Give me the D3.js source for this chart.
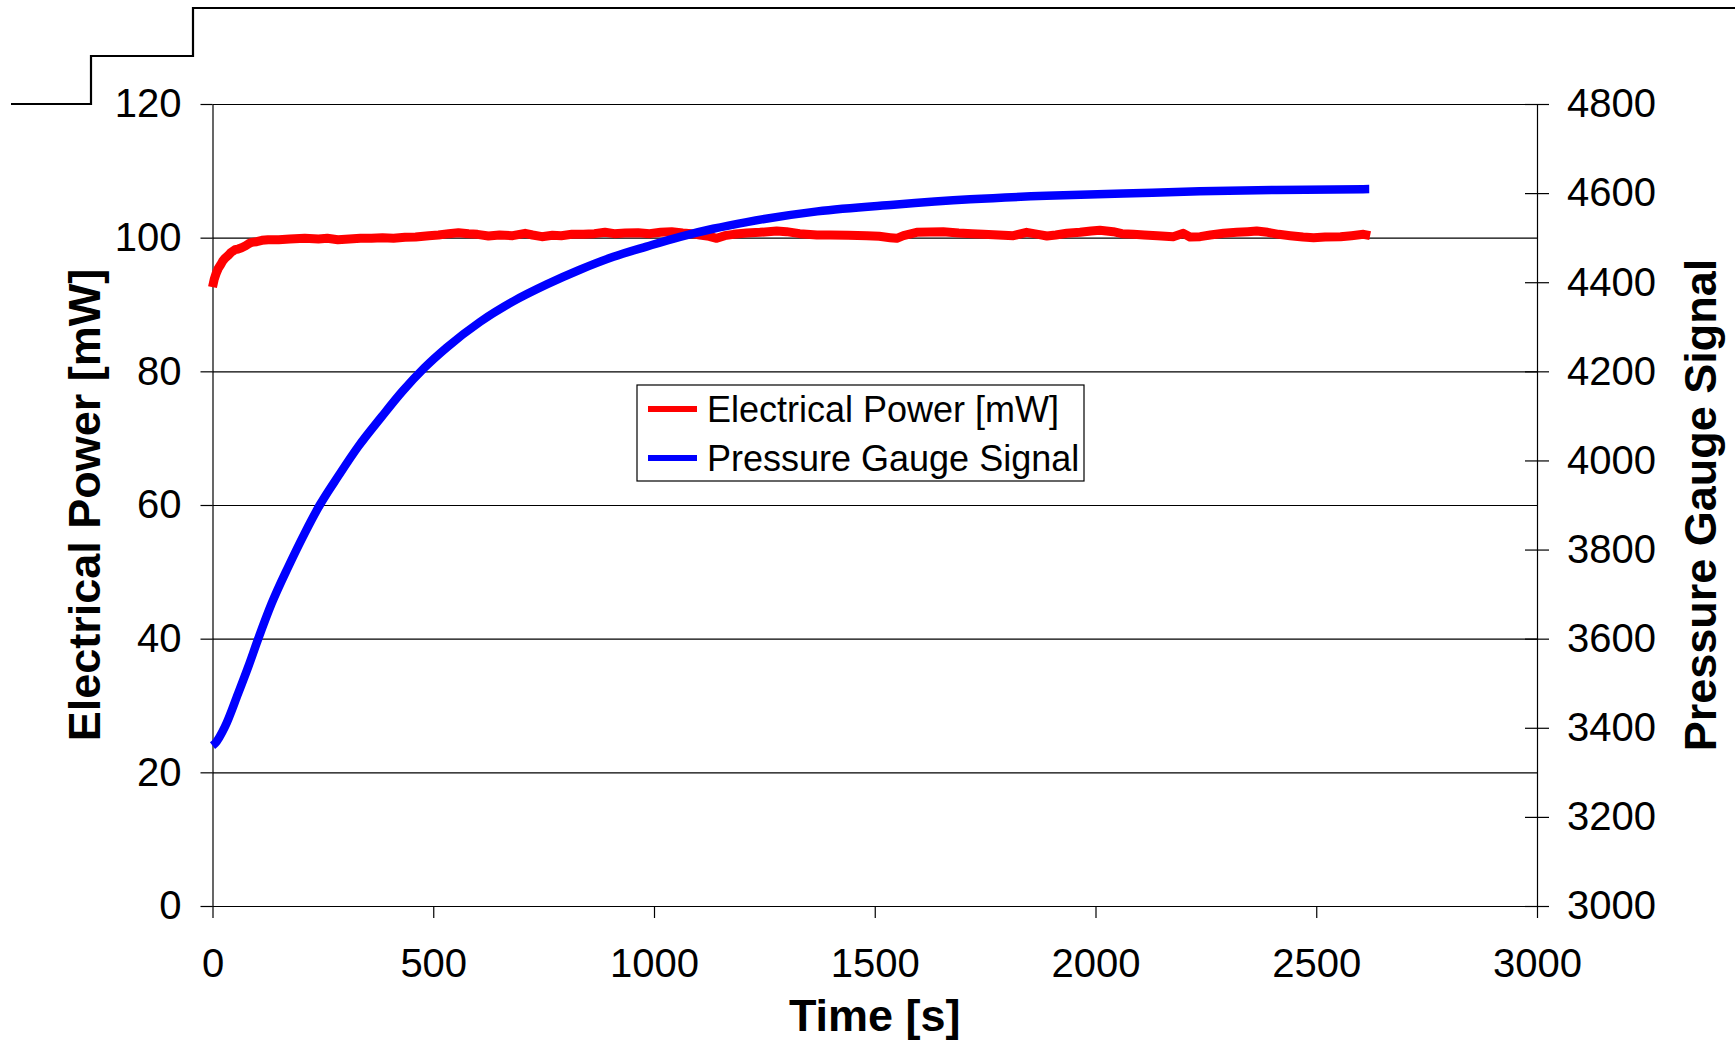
<!DOCTYPE html>
<html>
<head>
<meta charset="utf-8">
<script src="https://cdn.jsdelivr.net/npm/d3@7"></script>
<style>
  body { margin: 0; background: #fff; }
  svg { display: block; font-family: "Liberation Sans", Arial, sans-serif; }
  .axis text { font-size: 40px; fill: #000; }
  .axis line, .axis path { stroke: #000; stroke-width: 1.2; }
  .grid line { stroke: #000; stroke-width: 1.2; }
  .grid path { display: none; }
</style>
</head>
<body>
<div id="chart"></div>
<script>
// tick labels
var timeTicks = [0, 500, 1000, 1500, 2000, 2500, 3000];
var powerTicks = [0, 20, 40, 60, 80, 100, 120];
var pressureTicks = [3000, 3200, 3400, 3600, 3800, 4000, 4200, 4400, 4600, 4800];

// Electrical Power [mW]
var powerTime = [0, 4, 8, 13, 18, 23, 28, 35, 42, 51, 58, 66, 75, 82, 89, 100, 112, 126, 150, 175,
  209, 240, 260, 284, 310, 335, 360, 385, 410, 436, 460, 490, 512, 535, 557, 580, 600, 625, 650, 680,
  708, 725, 746, 770, 790, 814, 840, 865, 889, 910, 935, 964, 990, 1015, 1040, 1065, 1085, 1104, 1125, 1142,
  1160, 1180, 1210, 1240, 1278, 1300, 1330, 1369, 1400, 1440, 1482, 1510, 1535, 1550, 1565, 1595, 1625, 1655, 1690, 1720,
  1746, 1780, 1814, 1844, 1870, 1890, 1910, 1935, 1965, 1990, 2010, 2040, 2060, 2086, 2110, 2140, 2176, 2199, 2214, 2237,
  2260, 2290, 2320, 2345, 2365, 2390, 2415, 2441, 2470, 2494, 2520, 2555, 2580, 2607, 2622];
var powerValues = [92.6, 93.8, 94.6, 95.4, 95.9, 96.5, 96.9, 97.3, 97.8, 98.2, 98.3, 98.5, 98.8, 99.1, 99.3, 99.4, 99.6, 99.7, 99.7, 99.8,
  99.9, 99.8, 99.9, 99.7, 99.8, 99.9, 99.9, 100.0, 99.9, 100.05, 100.1, 100.3, 100.4, 100.6, 100.75, 100.6, 100.5, 100.25, 100.4, 100.3,
  100.65, 100.4, 100.15, 100.35, 100.3, 100.5, 100.5, 100.6, 100.8, 100.6, 100.7, 100.75, 100.6, 100.8, 100.9, 100.7, 100.6, 100.4, 100.2, 99.9,
  100.3, 100.5, 100.7, 100.8, 101.0, 100.9, 100.6, 100.4, 100.4, 100.35, 100.3, 100.2, 100.0, 99.9, 100.3, 100.8, 100.85, 100.9, 100.7, 100.6,
  100.5, 100.4, 100.3, 100.8, 100.5, 100.25, 100.4, 100.65, 100.8, 101.0, 101.1, 100.9, 100.6, 100.5, 100.4, 100.3, 100.15, 100.65, 100.1, 100.15,
  100.4, 100.65, 100.8, 100.9, 101.0, 100.8, 100.5, 100.3, 100.1, 100.0, 100.1, 100.15, 100.3, 100.5, 100.3];

// Pressure Gauge Signal
var pressureTime = [0, 6, 28, 58, 81, 104, 134, 172, 209, 243, 285, 330, 383, 430, 480, 530, 606, 681, 757, 832,
  908, 983, 1059, 1134, 1210, 1370, 1543, 1716, 1889, 2063, 2236, 2410, 2620];
var pressureValues = [3360, 3365, 3402, 3477, 3537, 3601, 3679, 3762, 3837, 3900, 3965, 4031, 4098, 4155, 4208, 4253, 4311, 4357, 4395, 4428,
  4457, 4480, 4502, 4520, 4535, 4559, 4574, 4586, 4594, 4599, 4604, 4607, 4609];

var seriesNames = ["Electrical Power [mW]", "Pressure Gauge Signal"];
var seriesColors = ["#ff0000", "#0000ff"];

var PowerChart = {
  init: function () {
    this.W = 1735;
    this.H = 1042;
    this.margin = { left: 212.5, top: 104, right: 198, bottom: 136 };
    this.w = this.W - this.margin.left - this.margin.right;
    this.h = this.H - this.margin.top - this.margin.bottom;

    this.svg = d3.select("#chart").append("svg")
      .attr("width", this.W)
      .attr("height", this.H);

    this.x = d3.scaleLinear().domain([0, 3000]).range([0, this.w]);
    this.yLeft = d3.scaleLinear().domain([0, 120]).range([this.h, 0]);
    this.yRight = d3.scaleLinear().domain([3000, 4800]).range([this.h, 0]);

    this.drawFrame();
    this.g = this.svg.append("g")
      .attr("transform", "translate(" + this.margin.left + "," + this.margin.top + ")");
    this.drawAxes();
    this.drawSeries();
    this.drawLegend();
    return this;
  },
  drawFrame: function () {
    // step shaped border at the top left of the original sheet
    var steps = [[11, 104], [91, 104], [91, 56], [193, 56], [193, 8], [1735, 8]];
    this.svg.append("path")
      .attr("d", d3.line()(steps))
      .attr("fill", "none")
      .attr("stroke", "#000")
      .attr("stroke-width", 2.2);
  },
  drawAxes: function () {
    var g = this.g, w = this.w, h = this.h;
    var fmt = d3.format("d");

    g.append("g").attr("class", "grid")
      .call(d3.axisLeft(this.yLeft).tickValues(powerTicks).tickSize(-w).tickFormat(""));

    g.append("g").attr("class", "axis")
      .call(d3.axisLeft(this.yLeft).tickValues(powerTicks).tickFormat(fmt)
        .tickSizeInner(12).tickSizeOuter(0).tickPadding(19));

    g.append("g").attr("class", "axis")
      .attr("transform", "translate(0," + h + ")")
      .call(d3.axisBottom(this.x).tickValues(timeTicks).tickFormat(fmt)
        .tickSizeInner(12).tickSizeOuter(0).tickPadding(31));

    var right = g.append("g").attr("class", "axis")
      .attr("transform", "translate(" + w + ",0)")
      .call(d3.axisRight(this.yRight).tickValues(pressureTicks).tickFormat(fmt)
        .tickSizeInner(12).tickSizeOuter(0).tickPadding(18));
    right.selectAll(".tick line").attr("x1", -12);

    // axis titles
    g.append("text")
      .attr("transform", "translate(" + (100 - this.margin.left) + "," + (h / 2) + ") rotate(-90)")
      .attr("text-anchor", "middle")
      .style("font-size", "45px").style("font-weight", "bold")
      .text("Electrical Power [mW]");

    g.append("text")
      .attr("transform", "translate(" + (1716 - this.margin.left) + "," + (h / 2) + ") rotate(-90)")
      .attr("text-anchor", "middle")
      .style("font-size", "45px").style("font-weight", "bold")
      .text("Pressure Gauge Signal");

    g.append("text")
      .attr("x", w / 2)
      .attr("y", 1031 - this.margin.top)
      .attr("text-anchor", "middle")
      .style("font-size", "45px").style("font-weight", "bold")
      .text("Time [s]");
  },
  drawSeries: function () {
    var that = this;
    var power = powerTime.map(function (t, i) { return [t, powerValues[i]]; });
    var pressure = pressureTime.map(function (t, i) { return [t, pressureValues[i]]; });

    var lineLeft = d3.line()
      .x(function (d) { return that.x(d[0]); })
      .y(function (d) { return that.yLeft(d[1]); });
    var lineRight = d3.line()
      .curve(d3.curveMonotoneX)
      .x(function (d) { return that.x(d[0]); })
      .y(function (d) { return that.yRight(d[1]); });

    this.g.append("path")
      .datum(power)
      .attr("d", lineLeft)
      .attr("fill", "none")
      .attr("stroke", seriesColors[0])
      .attr("stroke-width", 9)
      .attr("stroke-linejoin", "round");

    this.g.append("path")
      .datum(pressure)
      .attr("d", lineRight)
      .attr("fill", "none")
      .attr("stroke", seriesColors[1])
      .attr("stroke-width", 8.5);
  },
  drawLegend: function () {
    var lg = this.svg.append("g").attr("transform", "translate(637,385)");
    lg.append("rect")
      .attr("width", 447).attr("height", 96)
      .attr("fill", "#fff").attr("stroke", "#000").attr("stroke-width", 1.2);

    var items = lg.selectAll("g.item")
      .data(seriesNames)
      .enter().append("g")
      .attr("class", "item")
      .attr("transform", function (d, i) { return "translate(0," + (24 + i * 49) + ")"; });

    items.append("line")
      .attr("x1", 11).attr("x2", 60)
      .attr("stroke", function (d, i) { return seriesColors[i]; })
      .attr("stroke-width", 6);

    items.append("text")
      .attr("x", 70).attr("y", 13)
      .style("font-size", "36px")
      .text(function (d) { return d; });
  }
};

PowerChart.init();
</script>
</body>
</html>
